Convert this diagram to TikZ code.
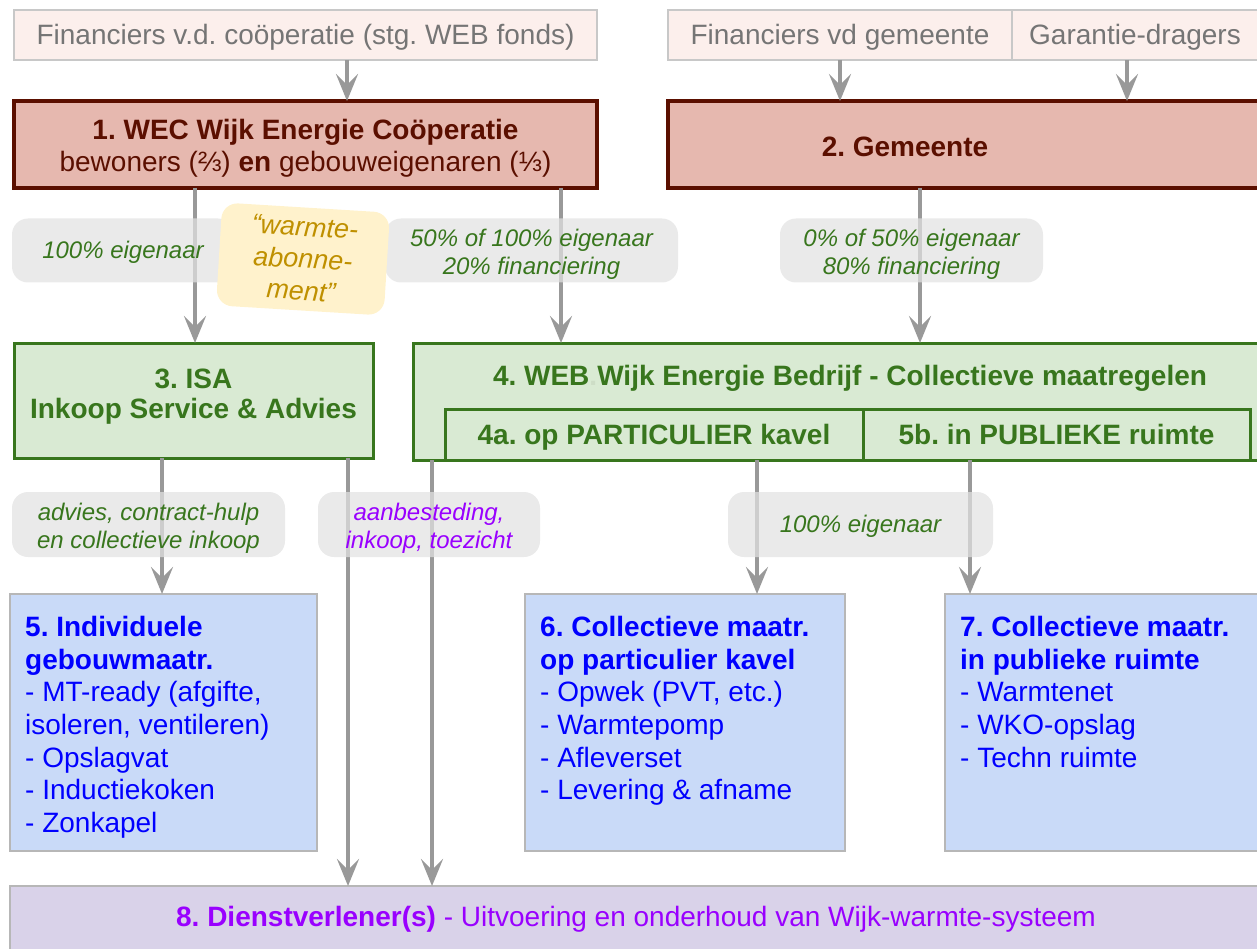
\documentclass[tikz,border=0pt]{standalone}
\usepackage{fontspec}
\setmainfont{Liberation Sans}
\usetikzlibrary{arrows.meta}
\frenchspacing
\definecolor{finfill}{HTML}{FCEFEC}
\definecolor{finline}{HTML}{C8C8C8}
\definecolor{fintext}{HTML}{757575}
\definecolor{wecfill}{HTML}{E6B8AF}
\definecolor{wecdark}{HTML}{5B0F00}
\definecolor{isafill}{HTML}{D9EAD3}
\definecolor{isadark}{HTML}{38761D}
\definecolor{bluefill}{HTML}{C9DAF8}
\definecolor{blueline}{HTML}{B7B7B7}
\definecolor{bluetext}{HTML}{0000FF}
\definecolor{purfill}{HTML}{D9D2E9}
\definecolor{purtext}{HTML}{9900FF}
\definecolor{labgray}{HTML}{E2E2E2}
\definecolor{warmfill}{HTML}{FFF2CC}
\definecolor{warmtext}{HTML}{BF9000}
\definecolor{arrgray}{HTML}{999999}
\newcommand\tallstrut[1]{\rule{0pt}{#1}}
\newcommand\deepstrut[1]{\rule[-#1]{0pt}{#1}}
\begin{document}
\begin{tikzpicture}[x=1pt,y=-1pt,
  box/.style={rectangle, outer sep=0pt, inner sep=0pt, anchor=north west, align=center},
  oneline/.style={text height=24pt, text depth=4pt},
  finbox/.style={box, oneline, fill=finfill, draw=finline, line width=1.2pt, text=fintext,
    font=\fontsize{28}{33}\selectfont},
  wecbox/.style={box, fill=wecfill, draw=wecdark, line width=3.5pt, text=wecdark,
    font=\fontsize{28}{32}\selectfont},
  isabox/.style={box, fill=isafill, draw=isadark, line width=3pt, text=isadark,
    font=\fontsize{28}{30}\selectfont\bfseries},
  bluebox/.style={box, fill=bluefill, draw=blueline, line width=1.5pt},
  bluetxt/.style={anchor=north west, inner sep=0pt, align=left, text=bluetext,
    font=\fontsize{28}{32.7}\selectfont},
  purbox/.style={box, fill=purfill, draw=blueline, line width=1.5pt},
  lab/.style={rectangle, rounded corners=16pt, fill=labgray, fill opacity=0.72,
    text opacity=1, inner sep=0pt, align=center, minimum height=64pt,
    font=\fontsize{24}{28}\selectfont\itshape, text=isadark},
  warmbox/.style={rectangle, rounded corners=16pt, fill=warmfill, inner sep=0pt,
    align=center, minimum width=168pt, minimum height=103pt, rotate=-3.5,
    font=\fontsize{27}{32}\selectfont\itshape, text=warmtext},
  arr/.style={draw=arrgray, line width=4pt,
    -{Stealth[length=27pt, width=22pt, inset=11pt]}}
]
\useasboundingbox (0,0) rectangle (1257,949);
\clip (0,0) rectangle (1257,949);

% financiers
\node[finbox, minimum width=583, minimum height=50] (fa) at (14,10)
  {Financiers v.d. coöperatie (stg. WEB fonds)};
\node[finbox, minimum width=344, minimum height=50] (fg) at (668,10)
  {Financiers vd gemeente};
\node[finbox, minimum width=246, minimum height=50] (gd) at (1012,10)
  {Garantie-dragers};

% level 1/2
\node[wecbox, minimum width=583, minimum height=87] (wec) at (14,101)
  {\tallstrut{28pt}\textbf{1. WEC Wijk Energie Coöperatie}\\bewoners (⅔) \textbf{en} gebouweigenaren (⅓)};
\node[wecbox, minimum width=640, minimum height=87] (gem) at (668,101) {};
\node[text=wecdark, font=\fontsize{28}{32}\selectfont\bfseries, inner sep=0pt]
  (gemt) at (905,147) {2. Gemeente};

% level 3/4
\node[isabox, minimum width=359, minimum height=115] (isa) at (14,343)
  {3. ISA\\Inkoop Service \& Advies\deepstrut{14pt}};
\node[isabox, minimum width=880, minimum height=117] (web) at (413,343) {};
\node[text=isadark, font=\fontsize{28}{32}\selectfont\bfseries, inner sep=0pt]
  (webt) at (850,378) {4. WEB{\color{isadark!25}.}Wijk Energie Bedrijf - Collectieve maatregelen};
\node[isabox, oneline, minimum width=418, minimum height=51] (p4a) at (445,409)
  {4a. op PARTICULIER kavel};
\node[isabox, oneline, minimum width=387, minimum height=51] (p5b) at (863,409)
  {5b. in PUBLIEKE ruimte};

% level 5/6/7
\node[bluebox, minimum width=307, minimum height=257] (b5) at (10,594) {};
\node[bluetxt] (b5t) at (25,616)
  {\textbf{5. Individuele}\\\textbf{gebouwmaatr.}\\- MT-ready (afgifte,\\isoleren, ventileren)\\- Opslagvat\\- Inductiekoken\\- Zonkapel};
\node[bluebox, minimum width=320, minimum height=257] (b6) at (525,594) {};
\node[bluetxt] (b6t) at (540,616)
  {\textbf{6. Collectieve maatr.}\\\textbf{op particulier kavel}\\- Opwek (PVT, etc.)\\- Warmtepomp\\- Afleverset\\- Levering \& afname};
\node[bluebox, minimum width=340, minimum height=257] (b7) at (945,594) {};
\node[bluetxt] (b7t) at (960,616)
  {\textbf{7. Collectieve maatr.}\\\textbf{in publieke ruimte}\\- Warmtenet\\- WKO-opslag\\- Techn ruimte};

% level 8
\node[purbox, minimum width=1280, minimum height=90] (b8) at (10,886) {};
\node[text=purtext, font=\fontsize{28}{32}\selectfont, inner sep=0pt] (b8t) at (636,919)
  {\textbf{8. Dienstverlener(s)} - Uitvoering en onderhoud van Wijk-warmte-systeem};

% connectors
\draw[arr] (fa.south -| 347,0) -- (wec.north -| 347,0);
\draw[arr] (fg.south -| 840,0) -- (gem.north -| 840,0);
\draw[arr] (gd.south -| 1127,0) -- (gem.north -| 1127,0);
\draw[arr] (wec.south -| 195,0) -- (isa.north -| 195,0);
\draw[arr] (wec.south -| 561,0) -- (web.north -| 561,0);
\draw[arr] (gem.south -| 920,0) -- (web.north -| 920,0);
\draw[arr] (isa.south -| 162,0) -- (b5.north -| 162,0);
\draw[arr] (isa.south -| 348,0) -- (b8.north -| 348,0);
\draw[arr] (web.south -| 432,0) -- (b8.north -| 432,0);
\draw[arr] (p4a.south -| 757,0) -- (b6.north -| 757,0);
\draw[arr] (p5b.south -| 970,0) -- (b7.north -| 970,0);

% labels
\node[lab, minimum width=222] (l1) at (123,250.5) {\tallstrut{21.5pt}100\% eigenaar};
\node[lab, minimum width=293] (l2) at (531.5,250.5) {\tallstrut{25pt}50\% of 100\% eigenaar\\20\% financiering};
\node[lab, minimum width=263] (l3) at (911.5,250.5) {\tallstrut{25pt}0\% of 50\% eigenaar\\80\% financiering};
\node[lab, minimum width=273, minimum height=65] (l4) at (148.5,524.5) {\tallstrut{25pt}advies, contract-hulp\\en collectieve inkoop};
\node[lab, minimum width=222, minimum height=65, text=purtext] (l5) at (429,524.5) {\tallstrut{25pt}aanbesteding,\\inkoop, toezicht};
\node[lab, minimum width=265, minimum height=65] (l6) at (860.5,524.5) {\tallstrut{21.5pt}100\% eigenaar};
\node[warmbox] (warm) at (303,259) {“warmte-\\abonne-\\ment”};
\end{tikzpicture}
\end{document}
